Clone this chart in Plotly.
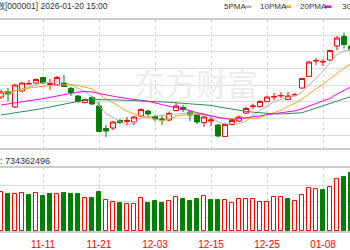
import plotly.graph_objects as go

dates = ["11-03", "11-04", "11-05", "11-06", "11-07", "11-10", "11-11", "11-12", "11-13", "11-14",
         "11-17", "11-18", "11-19", "11-20", "11-21", "11-24", "11-25", "11-26", "11-27", "11-28",
         "12-01", "12-02", "12-03", "12-04", "12-05", "12-08", "12-09", "12-10", "12-11", "12-12",
         "12-15", "12-16", "12-17", "12-18", "12-19", "12-22", "12-23", "12-24", "12-25", "12-26",
         "12-29", "12-30", "12-31", "01-05", "01-06", "01-07", "01-08", "01-09", "01-12", "01-13",
         "01-14"]

opens = [3954.5, 3973.8, 3919.5, 3975.5, 4000.0, 4003.5, 4022.8, 3998.5, 3996.5, 4003.5,
         3984.3, 3958.0, 3935.3, 3952.8, 3923.0, 3844.3, 3846.0, 3872.3, 3868.8, 3867.0,
         3888.0, 3905.5, 3886.3, 3877.5, 3874.0, 3907.3, 3917.8, 3902.0, 3893.3, 3865.3,
         3870.5, 3856.5, 3816.3, 3858.3, 3870.5, 3898.5, 3921.3, 3921.3, 3938.8, 3954.5,
         3958.0, 3945.8, 3961.5, 3986.0, 4026.3, 4080.5, 4077.0, 4084.0, 4133.0, 4166.3,
         4133.0]
highs = [3979.0, 3986.0, 4000.0, 4007.0, 4014.0, 4019.3, 4024.5, 4017.5, 4028.0, 4031.5,
         3989.5, 3961.5, 3949.3, 3958.0, 3937.0, 3856.5, 3870.5, 3877.5, 3884.5, 3888.0,
         3914.3, 3909.0, 3891.5, 3891.5, 3903.8, 3935.3, 3926.5, 3909.0, 3898.5, 3889.8,
         3884.5, 3860.0, 3863.5, 3877.5, 3889.8, 3919.5, 3931.8, 3944.0, 3959.8, 3968.5,
         3972.0, 3972.0, 3968.5, 4021.0, 4080.5, 4091.0, 4087.5, 4119.0, 4168.0, 4180.3,
         4140.0]
lows = [3947.5, 3940.5, 3916.0, 3972.0, 3998.3, 4000.0, 4000.0, 3979.0, 3993.0, 3989.5,
        3958.0, 3933.5, 3931.8, 3926.5, 3832.0, 3814.5, 3839.0, 3860.0, 3856.5, 3856.5,
        3884.5, 3888.0, 3868.8, 3856.5, 3868.8, 3903.8, 3902.0, 3870.5, 3860.0, 3849.5,
        3853.0, 3812.8, 3814.5, 3854.8, 3867.0, 3895.0, 3912.5, 3917.8, 3937.0, 3944.0,
        3951.0, 3944.0, 3956.3, 3982.5, 4024.5, 4066.5, 4063.0, 4080.5, 4119.0, 4124.3,
        4112.0]
closes = [3972.0, 3965.0, 3996.5, 4003.5, 4001.8, 4015.8, 4003.5, 4001.0, 4022.8, 3991.3,
          3970.3, 3938.8, 3945.8, 3930.0, 3833.8, 3835.5, 3867.0, 3865.3, 3872.3, 3884.5,
          3910.8, 3895.0, 3877.5, 3874.0, 3896.8, 3923.0, 3910.8, 3891.5, 3867.0, 3884.5,
          3874.0, 3818.0, 3858.3, 3872.3, 3884.5, 3914.3, 3923.0, 3938.8, 3954.5, 3956.3,
          3959.8, 3958.0, 3963.3, 4019.3, 4077.0, 4082.3, 4078.8, 4117.3, 4161.0, 4138.3,
          4119.0]

ma5 = [3958.0, 3965.0, 3975.5, 3982.5, 3987.8, 3996.5, 4004.2, 4005.1, 4008.9, 4006.8,
       3997.7, 3984.8, 3973.8, 3955.2, 3923.7, 3896.8, 3882.4, 3866.3, 3854.8, 3864.9,
       3880.0, 3885.6, 3888.0, 3888.4, 3890.8, 3893.3, 3896.4, 3899.2, 3897.8, 3895.4,
       3885.6, 3867.0, 3860.4, 3861.4, 3861.4, 3869.5, 3890.5, 3906.6, 3923.0, 3937.4,
       3946.5, 3953.5, 3958.4, 3971.3, 3995.5, 4020.0, 4044.1, 4074.9, 4103.3, 4115.5,
       4122.9]
ma10 = [3968.5, 3972.0, 3977.3, 3982.5, 3986.0, 3989.5, 3993.0, 3994.8, 3996.5, 3998.1,
        3997.9, 3995.3, 3990.2, 3982.9, 3966.1, 3948.0, 3934.4, 3920.0, 3905.0, 3894.3,
        3888.4, 3884.0, 3877.2, 3871.6, 3877.9, 3886.6, 3891.0, 3893.6, 3893.1, 3893.1,
        3889.4, 3881.7, 3879.8, 3879.6, 3878.4, 3877.5, 3878.7, 3883.5, 3892.2, 3899.4,
        3908.0, 3922.0, 3932.5, 3947.2, 3966.4, 3983.2, 3998.8, 4016.6, 4037.3, 4055.5,
        4071.4]
ma20 = [3926.5, 3930.0, 3933.5, 3937.0, 3940.5, 3944.0, 3947.5, 3952.8, 3958.0, 3963.3,
        3968.5, 3972.0, 3973.8, 3972.0, 3966.8, 3961.5, 3956.3, 3952.8, 3949.3, 3946.2,
        3943.1, 3939.6, 3933.7, 3927.2, 3922.0, 3917.4, 3912.7, 3906.9, 3899.0, 3893.6,
        3888.9, 3882.8, 3878.6, 3875.6, 3878.2, 3882.1, 3884.9, 3888.5, 3892.6, 3896.2,
        3898.7, 3901.8, 3906.2, 3913.4, 3922.3, 3930.4, 3938.8, 3950.0, 3964.7, 3977.4,
        3989.7]
ma30 = [3891.5, 3895.0, 3898.5, 3902.0, 3905.5, 3909.0, 3914.3, 3919.5, 3924.8, 3930.0,
        3935.3, 3938.8, 3944.0, 3945.4, 3945.8, 3945.4, 3944.7, 3943.7, 3943.0, 3942.3,
        3941.6, 3940.5, 3939.5, 3938.1, 3936.3, 3934.2, 3932.5, 3930.7, 3929.7, 3928.5,
        3925.2, 3920.3, 3915.7, 3911.3, 3907.4, 3904.0, 3901.4, 3899.0, 3896.8, 3895.6,
        3895.2, 3895.9, 3896.5, 3899.4, 3907.5, 3915.8, 3922.8, 3931.2, 3940.9, 3949.3,
        3956.3]

volumes = [580e6, 555e6, 555e6, 565e6, 540e6, 575e6, 530e6, 550e6, 555e6, 575e6,
           550e6, 550e6, 500e6, 490e6, 590e6, 465e6, 440e6, 425e6, 410e6, 410e6,
           490e6, 425e6, 450e6, 415e6, 450e6, 505e6, 480e6, 450e6, 480e6, 530e6,
           465e6, 465e6, 460e6, 415e6, 480e6, 480e6, 480e6, 430e6, 430e6, 505e6,
           515e6, 480e6, 450e6, 540e6, 640e6, 630e6, 615e6, 665e6, 780e6, 805e6,
           865e6]
# 1 = close up vs previous close (red), 0 = down (green)
vol_up = [1, 0, 1, 1, 0, 1, 0, 0, 1, 0,
          0, 0, 1, 0, 0, 1, 1, 0, 1, 1,
          1, 0, 0, 0, 1, 1, 0, 0, 0, 1,
          0, 0, 1, 1, 1, 1, 1, 1, 1, 1,
          1, 0, 1, 1, 1, 1, 0, 1, 1, 0,
          0]

ma_names = ["5PMA", "10PMA", "20PMA", "30PMA"]
ma_colors = ["#b4b4b4", "#f5a623", "#ff00ff", "#2e8b57"]
header_text = "上证指数[000001] 2026-01-20 15:00"
vol_label = "成交量: 734362496"

RED = "#ff0000"
GREEN = "#008000"
W, H = 350, 250

x = list(range(len(dates)))
tick_idx = list(range(6, len(dates), 8))
tick_text = [dates[i] for i in tick_idx]

def px_x(p):
    return p / W

def px_y(p):
    return (H - p) / H

fig = go.Figure()

fig.add_trace(go.Candlestick(
    x=x, open=opens, high=highs, low=lows, close=closes,
    increasing=dict(line=dict(color=RED, width=1), fillcolor="#ffffff"),
    decreasing=dict(line=dict(color=GREEN, width=1), fillcolor=GREEN),
    whiskerwidth=0, hoverinfo="skip", xaxis="x", yaxis="y"))

for name, vals, col in zip(ma_names, [ma5, ma10, ma20, ma30], ma_colors):
    fig.add_trace(go.Scatter(x=x, y=vals, mode="lines", name=name,
                             line=dict(color=col, width=1), hoverinfo="skip",
                             xaxis="x", yaxis="y"))

fig.add_trace(go.Bar(
    x=x, y=volumes, width=0.62,
    marker=dict(color=["#ffffff" if u else GREEN for u in vol_up],
                line=dict(color=[RED if u else GREEN for u in vol_up], width=1)),
    hoverinfo="skip", xaxis="x2", yaxis="y2"))

x_lo = 6 - 43 / 7
x_hi = 6 + 307 / 7
grid_c = "#dcdcdc"
vgrid_c = "#d2d2d2"
border_c = "#cccccc"

fig.update_layout(
    width=W, height=H, margin=dict(l=0, r=0, t=0, b=0),
    paper_bgcolor="white", plot_bgcolor="white", showlegend=False,
    boxgap=0.15, boxgroupgap=0.15, bargap=0,
    xaxis=dict(domain=[0, 1], range=[x_lo, x_hi], anchor="y", tickvals=tick_idx,
               showticklabels=False, showgrid=True, gridcolor=vgrid_c, griddash="3px,3px",
               gridwidth=1, showline=True, mirror=True, linecolor=border_c, linewidth=2,
               zeroline=False, rangeslider=dict(visible=False), fixedrange=True),
    yaxis=dict(domain=[px_y(148), px_y(19.5)], range=[3776, 4225.75], tickmode="linear",
               tick0=3821.5, dtick=58.33, showticklabels=False, showgrid=True,
               gridcolor=grid_c, gridwidth=1, zeroline=False, fixedrange=True),
    xaxis2=dict(domain=[0, 1], matches="x", anchor="y2", tickvals=tick_idx, ticktext=tick_text,
                tickfont=dict(family="Liberation Sans", size=10, color=RED),
                ticks="outside", ticklen=3, tickcolor="rgba(0,0,0,0)",
                showgrid=True, gridcolor=vgrid_c, griddash="3px,3px", gridwidth=1,
                showline=True, mirror=True, linecolor=border_c, linewidth=2,
                zeroline=False, fixedrange=True),
    yaxis2=dict(domain=[px_y(231), px_y(168)], range=[0, 9.45e8],
                tickvals=[2.1e8, 4.5e8, 6.9e8], showticklabels=False, showgrid=True,
                gridcolor=grid_c, gridwidth=1, zeroline=False, fixedrange=True),
)

annotations = [
    dict(text="东方财富", x=px_x(195.5), y=px_y(83), xref="paper", yref="paper",
         xanchor="center", yanchor="middle", showarrow=False,
         font=dict(family="Noto Sans CJK SC", size=31, color="#ececec")),
    dict(text=header_text, x=px_x(110), y=px_y(6), xref="paper", yref="paper",
         xanchor="right", yanchor="middle", showarrow=False,
         font=dict(family="Liberation Sans, Noto Sans CJK SC", size=8.5, color="#333333")),
    dict(text=vol_label, x=px_x(52), y=px_y(160), xref="paper", yref="paper",
         xanchor="right", yanchor="middle", showarrow=False,
         font=dict(family="Liberation Sans, Noto Sans CJK SC", size=9, color="#333333")),
]
legend_x = [222, 258, 298, 340]
shapes = []
for name, col, lx in zip(ma_names, ma_colors, legend_x):
    annotations.append(dict(text=name, x=px_x(lx), y=px_y(6.5), xref="paper", yref="paper",
                            xanchor="left", yanchor="middle", showarrow=False,
                            font=dict(family="Liberation Sans", size=8, color="#333333")))
    w_txt = 4.6 * len(name) + (1 if len(name) == 4 else 0)
    x0 = lx + w_txt + 4
    shapes.append(dict(type="rect", xref="paper", yref="paper",
                       x0=px_x(x0), x1=px_x(x0 + 6), y0=px_y(8), y1=px_y(5.5),
                       fillcolor=col, line=dict(width=0)))

fig.update_layout(annotations=annotations, shapes=shapes)

fig.write_html("out.html", config={"displayModeBar": False})
